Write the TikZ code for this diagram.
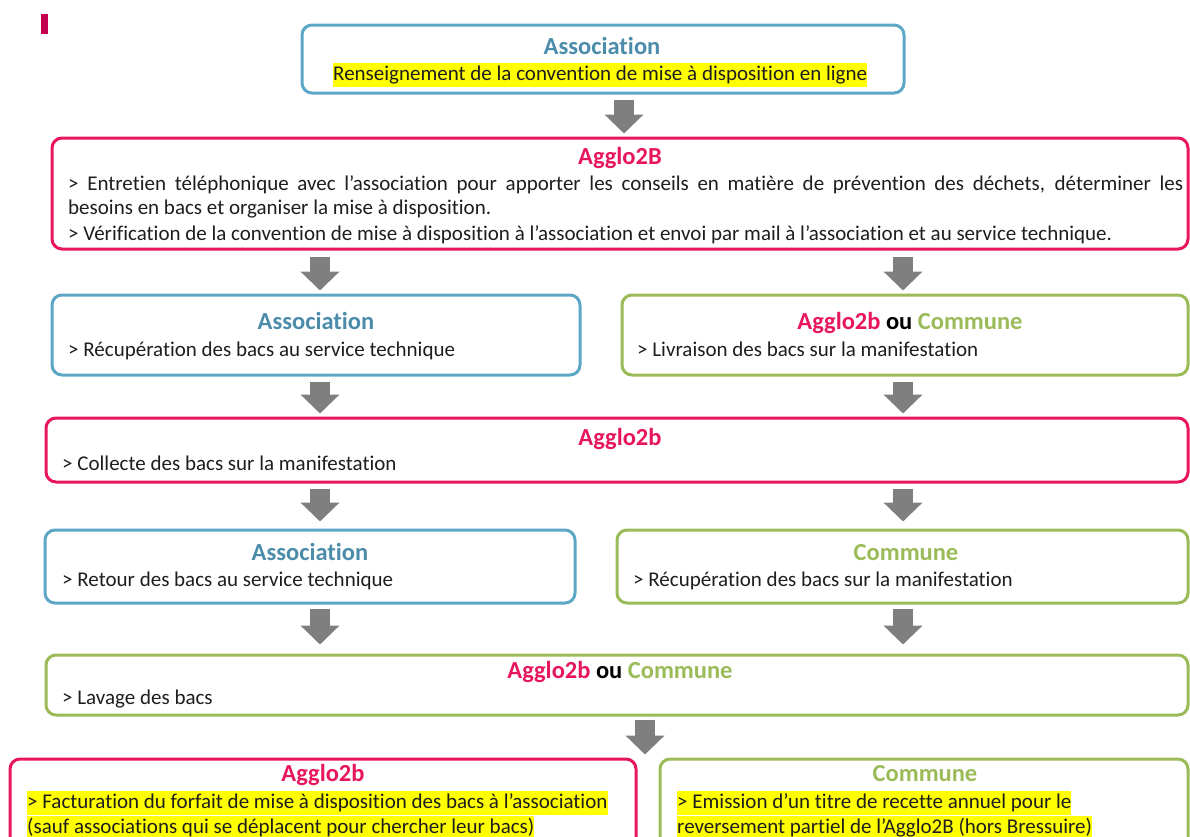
\documentclass[tikz,border=0pt]{standalone}
\usepackage{fontspec}
\setmainfont[Ligatures={NoCommon}]{Carlito}
\usetikzlibrary{arrows.meta,calc}
\definecolor{bluebd}{RGB}{92,167,197}
\definecolor{bluetx}{RGB}{76,140,171}
\definecolor{pinkc}{RGB}{232,22,95}
\definecolor{greenc}{RGB}{155,187,89}
\definecolor{arrowgray}{RGB}{127,127,127}
\definecolor{markc}{RGB}{194,0,78}
\definecolor{hly}{RGB}{255,255,0}
\definecolor{txtc}{RGB}{30,30,30}
\newcommand{\hlt}[1]{{\setlength{\fboxsep}{0pt}\colorbox{hly}{\strut #1}}}
\tikzset{
  boxbase/.style={draw, line width=3pt, rounded corners=10pt, fill=white, inner sep=0pt},
  bluebox/.style={boxbase, draw=bluebd},
  pinkbox/.style={boxbase, draw=pinkc},
  greenbox/.style={boxbase, draw=greenc},
  txt/.style={inner sep=0pt, anchor=base west, text=txtc, font=\fontsize{21}{24}\selectfont},
  ttl/.style={inner sep=0pt, anchor=base, font=\fontsize{24.5}{28}\selectfont\bfseries},
  barrow/.style={draw=arrowgray, line width=20pt, -{Triangle[width=38pt,length=19pt,fill=arrowgray]}}
}
\begin{document}
\begin{tikzpicture}[x=1pt,y=-1pt]
\useasboundingbox (0,0) rectangle (1190,836);
\clip (0,0) rectangle (1190,836);
% marker
\fill[markc] (41,14) rectangle (48,34);
% boxes
\node[bluebox, minimum width=602pt, minimum height=68pt] (b1) at (603,59) {};
\node[pinkbox, minimum width=1136pt, minimum height=111pt] (b2) at (620,193.5) {};
\node[bluebox, minimum width=528pt, minimum height=80pt] (b3a) at (316,335) {};
\node[greenbox, minimum width=566pt, minimum height=80pt] (b3b) at (905,335) {};
\node[pinkbox, minimum width=1142pt, minimum height=64pt] (b4) at (617,450) {};
\node[bluebox, minimum width=530pt, minimum height=73pt] (b5a) at (310,566.5) {};
\node[greenbox, minimum width=571pt, minimum height=73pt] (b5b) at (902.5,566.5) {};
\node[greenbox, minimum width=1142pt, minimum height=60pt] (b6) at (617,685) {};
\node[pinkbox, minimum width=626pt, minimum height=100pt] (b7a) at (323,809) {};
\node[greenbox, minimum width=528pt, minimum height=100pt] (b7b) at (924,809) {};
% titles and texts
\node[ttl, text=bluetx] (t1) at (602,54) {Association};
\node[txt] (x1) at (333,80) {\hlt{Renseignement de la convention de mise à disposition en ligne}};

\node[ttl, text=pinkc] (t2) at (620,164) {Agglo2B};
\node[txt] (x2a) at (68,190) {\makebox[1115pt][s]{> Entretien téléphonique avec l’association pour apporter les conseils en matière de prévention des déchets, déterminer les}};
\node[txt] (x2b) at (68,214) {besoins en bacs et organiser la mise à disposition.};
\node[txt] (x2c) at (68,240) {> Vérification de la convention de mise à disposition à l’association et envoi par mail à l’association et au service technique.};

\node[ttl, text=bluetx] (t3a) at (316,329) {Association};
\node[txt] (x3a) at (68,356) {> Récupération des bacs au service technique};
\node[ttl] (t3b) at (910,329) {\textcolor{pinkc}{Agglo2b} \textcolor{black}{ou} \textcolor{greenc}{Commune}};
\node[txt] (x3b) at (637,356) {> Livraison des bacs sur la manifestation};

\node[ttl, text=pinkc] (t4) at (620,445) {Agglo2b};
\node[txt] (x4) at (62,470) {> Collecte des bacs sur la manifestation};

\node[ttl, text=bluetx] (t5a) at (310,560) {Association};
\node[txt] (x5a) at (62,586) {> Retour des bacs au service technique};
\node[ttl, text=greenc] (t5b) at (906,560) {Commune};
\node[txt] (x5b) at (633,586) {> Récupération des bacs sur la manifestation};

\node[ttl] (t6) at (620,678) {\textcolor{pinkc}{Agglo2b} \textcolor{black}{ou} \textcolor{greenc}{Commune}};
\node[txt] (x6) at (62,704) {> Lavage des bacs};

\node[ttl, text=pinkc] (t7a) at (323,781) {Agglo2b};
\node[txt] (x7a1) at (27,808) {\hlt{> Facturation du forfait de mise à disposition des bacs à l’association}};
\node[txt] (x7a2) at (27,833) {\hlt{(sauf associations qui se déplacent pour chercher leur bacs)}};
\node[ttl, text=greenc] (t7b) at (925,781) {Commune};
\node[txt] (x7b1) at (677,808) {\hlt{> Emission d’un titre de recette annuel pour le}};
\node[txt] (x7b2) at (677,833) {\hlt{reversement partiel de l’Agglo2B (hors Bressuire)}};

% column coordinates
\coordinate (cm) at (624,0);
\coordinate (cl) at (320,0);
\coordinate (cr) at (903,0);
\coordinate (cb) at (645,0);
% arrows
\draw[barrow] ($(b1.south -| cm)+(0,5)$) -- ($(b2.north -| cm)+(0,-3)$);
\draw[barrow] ($(b2.south -| cl)+(0,6)$) -- ($(b3a.north -| cl)+(0,-3)$);
\draw[barrow] ($(b2.south -| cr)+(0,6)$) -- ($(b3b.north -| cr)+(0,-3)$);
\draw[barrow] ($(b3a.south -| cl)+(0,5)$) -- ($(b4.north -| cl)+(0,-3)$);
\draw[barrow] ($(b3b.south -| cr)+(0,5)$) -- ($(b4.north -| cr)+(0,-3)$);
\draw[barrow] ($(b4.south -| cl)+(0,5)$) -- ($(b5a.north -| cl)+(0,-7)$);
\draw[barrow] ($(b4.south -| cr)+(0,5)$) -- ($(b5b.north -| cr)+(0,-7)$);
\draw[barrow] ($(b5a.south -| cl)+(0,4)$) -- ($(b6.north -| cl)+(0,-9)$);
\draw[barrow] ($(b5b.south -| cr)+(0,4)$) -- ($(b6.north -| cr)+(0,-9)$);
\draw[barrow] ($(b6.south -| cb)+(0,3)$) -- ($(b7a.north -| cb)+(0,-3)$);
\end{tikzpicture}
\end{document}
